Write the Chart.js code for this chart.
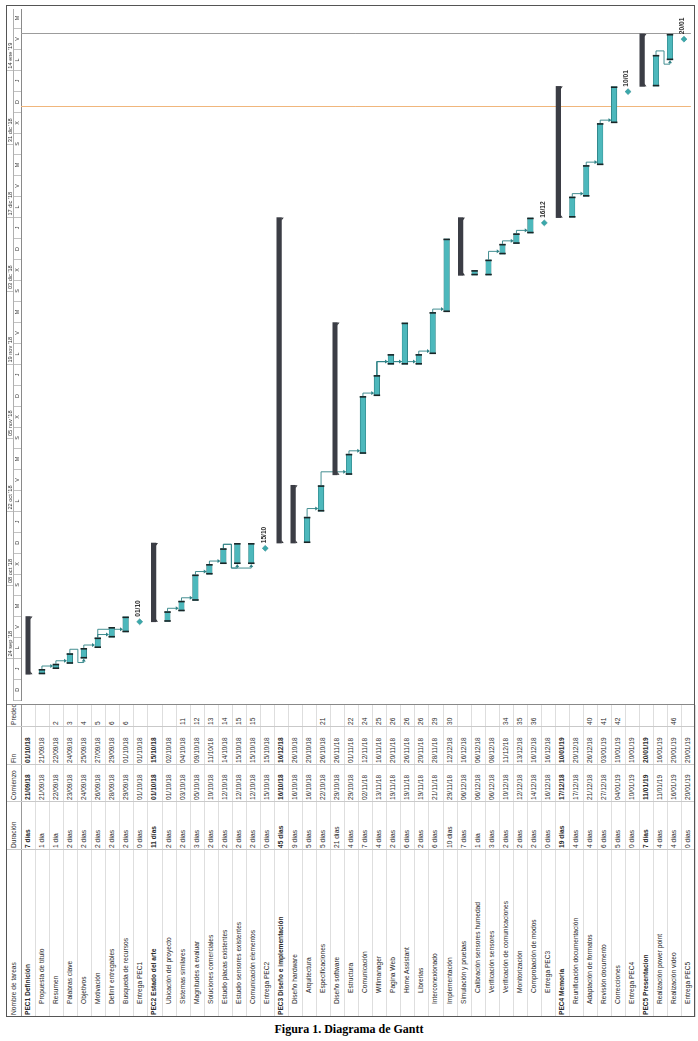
<!DOCTYPE html>
<html lang="es">
<head>
<meta charset="utf-8">
<title>Diagrama de Gantt</title>
<script src="https://cdn.jsdelivr.net/npm/chart.js@4.4.1/dist/chart.umd.min.js"></script>
<style>
  html, body { margin: 0; padding: 0; background: #fff; }
  body { width: 698px; height: 1041px; position: relative; overflow: hidden; font-family: "Liberation Sans", Arial, sans-serif; }
  /* the whole gantt is laid out normally and then turned a quarter to the left */
  #frame { position: absolute; left: 6px; top: 1017px; width: 1012px; height: 689.4px; transform-origin: 0 0; transform: rotate(-90deg); }
  #table { position: absolute; left: 0; top: 0; width: 312px; height: 100%; font-size: 6.6px; color: #2a2a2a; }
  .cell { position: absolute; white-space: nowrap; overflow: hidden; box-sizing: border-box; padding-left: 2px; }
  .rowline { position: absolute; left: 0; width: 312px; height: 0; border-top: 1px solid #dedede; }
  .colline { position: absolute; top: 0; width: 0; height: 100%; border-left: 1px solid #c9c9c9; }
  #chartBox { position: absolute; left: 312px; top: 0; width: 700px; height: 100%; }
  #border { position: absolute; left: 0; top: 0; right: 0; bottom: 0; border: 1px solid #555; pointer-events: none; }
  #caption { position: absolute; left: 0; width: 698px; top: 1022px; text-align: center; font: bold 12px "Liberation Serif", "Times New Roman", serif; color: #000; }
</style>
</head>
<body>
<div id="frame">
  <div id="table"></div>
  <div id="chartBox"><canvas id="gantt"></canvas></div>
  <div id="border"></div>
</div>
<div id="caption">Figura 1. Diagrama de Gantt</div>

<script>
const taskNames = [
  "PEC1 Definición", "Propuesta de título", "Resumen", "Palabras clave", "Objetivos", "Motivación",
  "Definir entregables", "Busqueda de recursos", "Entrega PEC1",
  "PEC2 Estado del arte", "Ubicación del proyecto", "Sistemas similares", "Magnitudes a evaluar",
  "Soluciones comerciales", "Estudio placas existentes", "Estudio sensores existentes",
  "Comunicación elementos", "Entrega PEC2",
  "PEC3 Diseño e implementación", "Diseño hardware", "Arquitectura", "Especificaciones",
  "Diseño software", "Estructura", "Comunicación", "Wifimanager", "Pagina Web", "Home Assistant",
  "Librerias", "Interconexionado", "Implementación", "Simulación y pruebas",
  "Calibración sensores humedad", "Verificación sensores", "Verificación de comunicaciones",
  "Monitorización", "Comprobación de modos", "Entrega PEC3",
  "PEC4 Memoria", "Reunificación documentación", "Adaptación de formatos", "Revisión documento",
  "Correcciones", "Entrega PEC4",
  "PEC5 Presentacion", "Realización power point", "Realización video", "Entrega PEC5"
];
const taskLevels = [
  1, 2, 2, 2, 2, 2, 2, 2, 2,
  1, 2, 2, 2, 2, 2, 2, 2, 2,
  1, 2, 3, 3, 2, 3, 3, 3, 3, 3, 3, 2, 2, 2, 3, 3, 3, 3, 3, 3,
  1, 2, 2, 2, 2, 2,
  1, 2, 2, 2
];
const durations = [
  "7 días", "1 día", "1 día", "2 días", "2 días", "2 días", "2 días", "2 días", "0 días",
  "11 días", "2 días", "2 días", "3 días", "2 días", "2 días", "2 días", "2 días", "0 días",
  "45 días", "9 días", "5 días", "5 días", "21 días", "4 días", "7 días", "4 días", "2 días",
  "6 días", "2 días", "6 días", "10 días", "7 días", "1 día", "3 días", "2 días", "2 días",
  "2 días", "0 días",
  "19 días", "4 días", "4 días", "6 días", "5 días", "0 días",
  "7 días", "4 días", "4 días", "0 días"
];
const startDates = [
  "21/09/18", "21/09/18", "22/09/18", "23/09/18", "24/09/18", "26/09/18", "28/09/18", "29/09/18", "01/10/18",
  "01/10/18", "01/10/18", "03/10/18", "05/10/18", "10/10/18", "12/10/18", "12/10/18", "12/10/18", "15/10/18",
  "16/10/18", "16/10/18", "16/10/18", "22/10/18", "29/10/18", "29/10/18", "02/11/18", "13/11/18", "19/11/18",
  "19/11/18", "19/11/18", "21/11/18", "29/11/18", "06/12/18", "06/12/18", "06/12/18", "10/12/18", "12/12/18",
  "14/12/18", "16/12/18",
  "17/12/18", "17/12/18", "21/12/18", "27/12/18", "04/01/19", "10/01/19",
  "11/01/19", "11/01/19", "16/01/19", "20/01/19"
];
const finishDates = [
  "01/10/18", "21/09/18", "22/09/18", "24/09/18", "25/09/18", "27/09/18", "29/09/18", "01/10/18", "01/10/18",
  "15/10/18", "02/10/18", "04/10/18", "09/10/18", "11/10/18", "14/10/18", "15/10/18", "15/10/18", "15/10/18",
  "16/12/18", "26/10/18", "20/10/18", "26/10/18", "26/11/18", "01/11/18", "12/11/18", "16/11/18", "20/11/18",
  "26/11/18", "20/11/18", "28/11/18", "12/12/18", "16/12/18", "06/12/18", "08/12/18", "11/12/18", "13/12/18",
  "16/12/18", "16/12/18",
  "10/01/19", "20/12/18", "26/12/18", "03/01/19", "10/01/19", "10/01/19",
  "20/01/19", "16/01/19", "20/01/19", "20/01/19"
];
const predecessors = [
  "", "", "2", "3", "4", "5", "6", "6", "",
  "", "", "11", "12", "13", "14", "15", "15", "",
  "", "", "", "21", "", "22", "24", "25", "26", "26", "26", "29", "30", "", "", "", "34", "35", "36", "",
  "", "", "40", "41", "42", "",
  "", "", "46", ""
];
const columnTitles = ["Nombre de tareas", "Duración", "Comienzo", "Fin", "Predecesoras"];

// timescale
const timelineStart = "16/09/18";
const timelineDays = 131.65;
const weekStarts = ["24/09/18", "08/10/18", "22/10/18", "05/11/18", "19/11/18", "03/12/18", "17/12/18", "31/12/18", "14/01/19"];
const weekLabels = ["24 sep '18", "08 oct '18", "22 oct '18", "05 nov '18", "19 nov '18", "03 dic '18", "17 dic '18", "31 dic '18", "14 ene '19"];
const dayInitials = ["D", "L", "M", "X", "J", "V", "S"];
const statusDate = "07/01/19";
const finishLineDate = "21/01/19";

// layout
const colWidths = [167, 48, 37, 38, 22];
const HEADER_H = 15;
const ROW_H = 674.4 / taskNames.length;
const CHART_W = 700;
const FONT = "'Liberation Sans', Arial, sans-serif";
const TEAL = "#4db8bc";
const LINK = "#2f8286";

const BASE = (() => { const [d, m, y] = timelineStart.split("/").map(Number); return Date.UTC(2000 + y, m - 1, d); })();
function dayOf(s) {
  const [d, m, y] = s.split("/").map(Number);
  return (Date.UTC(2000 + y, m - 1, d) - BASE) / 864e5;
}

const isSummary = taskLevels.map((lv, i) => i + 1 < taskLevels.length && taskLevels[i + 1] > lv);
const isMilestone = durations.map(d => d.startsWith("0 "));
const taskBars = taskNames.map((_, i) => (!isSummary[i] && !isMilestone[i]) ? [dayOf(startDates[i]), dayOf(finishDates[i]) + 1] : null);
const summaryBars = taskNames.map((_, i) => isSummary[i] ? [dayOf(startDates[i]), dayOf(finishDates[i]) + 1] : null);
const milestonePoints = [];
taskNames.forEach((n, i) => { if (isMilestone[i]) milestonePoints.push({ x: dayOf(startDates[i]), y: n, label: startDates[i].slice(0, 5) }); });

// ---- table ----
const table = document.getElementById("table");
function addCell(text, left, top, width, height, extra) {
  const c = document.createElement("div");
  c.className = "cell";
  c.textContent = text;
  c.style.left = left + "px";
  c.style.top = top + "px";
  c.style.width = width + "px";
  c.style.height = height + "px";
  c.style.lineHeight = height + "px";
  Object.assign(c.style, extra || {});
  table.appendChild(c);
}
let colLeft = [];
colWidths.reduce((acc, w) => { colLeft.push(acc); return acc + w; }, 0);
columnTitles.forEach((t, k) => addCell(t, colLeft[k], 0, colWidths[k], HEADER_H, { color: "#333" }));
taskNames.forEach((name, i) => {
  const top = HEADER_H + i * ROW_H;
  const bold = taskLevels[i] === 1 ? { fontWeight: "bold" } : {};
  addCell(name, 0, top, colWidths[0], ROW_H, Object.assign({ paddingLeft: (2 + (taskLevels[i] - 1) * 11) + "px" }, bold));
  addCell(durations[i], colLeft[1], top, colWidths[1], ROW_H, bold);
  addCell(startDates[i], colLeft[2], top, colWidths[2], ROW_H, bold);
  addCell(finishDates[i], colLeft[3], top, colWidths[3], ROW_H, bold);
  addCell(predecessors[i], colLeft[4], top, colWidths[4], ROW_H);
  const l = document.createElement("div");
  l.className = "rowline";
  l.style.top = (top + ROW_H) + "px";
  table.appendChild(l);
});
const hl = document.createElement("div");
hl.className = "rowline";
hl.style.top = HEADER_H + "px";
hl.style.borderTop = "1px solid #999";
table.appendChild(hl);
colLeft.slice(1).concat([312]).forEach(x => {
  const l = document.createElement("div");
  l.className = "colline";
  l.style.left = x + "px";
  if (x === 312) l.style.borderLeft = "1px solid #888";
  table.appendChild(l);
});

// ---- gantt ----
const pxPerDay = CHART_W / timelineDays;
const dayTicks = [];
for (let v = 0; v <= timelineDays; v += 4) dayTicks.push(v);
const weekTicks = weekStarts.map(dayOf);

const tierFit = h => scale => { scale.height = h; scale.paddingLeft = 0; scale.paddingRight = 0; };

const extrasPlugin = {
  id: "ganttExtras",
  beforeDatasetsDraw(chart) {
    const { ctx, chartArea, scales } = chart;
    ctx.save();
    // status date and finish lines
    [[statusDate, "#f0b67c"], [finishLineDate, "#9c9c9c"]].forEach(([d, col]) => {
      const x = Math.round(scales.x.getPixelForValue(dayOf(d))) + 0.5;
      ctx.strokeStyle = col;
      ctx.lineWidth = 1;
      ctx.beginPath();
      ctx.moveTo(x, chartArea.top);
      ctx.lineTo(x, chartArea.bottom);
      ctx.stroke();
    });
    // dependency links
    const meta = chart.getDatasetMeta(0);
    ctx.strokeStyle = LINK;
    ctx.fillStyle = LINK;
    ctx.lineWidth = 0.9;
    predecessors.forEach((p, i) => {
      if (!p || !taskBars[i]) return;
      p.split(";").forEach(id => {
        const j = Number(id) - 1;
        if (!taskBars[j]) return;
        const a = meta.data[j].getProps(["x", "y", "height"], true);
        const b = meta.data[i].getProps(["base", "y", "height"], true);
        ctx.beginPath();
        if (b.base >= a.x - 1) {
          const xt = b.base + 3;
          const top = b.y - b.height / 2;
          ctx.moveTo(a.x, a.y);
          ctx.lineTo(xt, a.y);
          ctx.lineTo(xt, top - 2);
          ctx.stroke();
          ctx.beginPath();
          ctx.moveTo(xt - 2, top - 3);
          ctx.lineTo(xt + 2, top - 3);
          ctx.lineTo(xt, top);
          ctx.closePath();
          ctx.fill();
        } else {
          const yMid = a.y + ROW_H / 2 + 1;
          const xl = b.base - 4;
          ctx.moveTo(a.x, a.y);
          ctx.lineTo(a.x + 4, a.y);
          ctx.lineTo(a.x + 4, yMid);
          ctx.lineTo(xl, yMid);
          ctx.lineTo(xl, b.y);
          ctx.lineTo(b.base - 2, b.y);
          ctx.stroke();
          ctx.beginPath();
          ctx.moveTo(b.base - 3, b.y - 2);
          ctx.lineTo(b.base - 3, b.y + 2);
          ctx.lineTo(b.base, b.y);
          ctx.closePath();
          ctx.fill();
        }
      });
    });
    ctx.restore();
  },
  afterDatasetsDraw(chart) {
    const ctx = chart.ctx;
    ctx.save();
    // end caps of task bars
    ctx.fillStyle = "#1b2526";
    chart.getDatasetMeta(0).data.forEach((el, i) => {
      if (!taskBars[i]) return;
      const { x, base, y, height } = el.getProps(["x", "base", "y", "height"], true);
      ctx.fillRect(base, y - height / 2 - 0.5, 1.6, height + 1);
      ctx.fillRect(x - 1.6, y - height / 2 - 0.5, 1.6, height + 1);
    });
    // pointed ends of summary bars
    ctx.fillStyle = "#33353b";
    chart.getDatasetMeta(1).data.forEach((el, i) => {
      if (!summaryBars[i]) return;
      const { x, base, y, height } = el.getProps(["x", "base", "y", "height"], true);
      const yb = y + height / 2;
      [[base, 1], [x, -1]].forEach(([px, dir]) => {
        ctx.beginPath();
        ctx.moveTo(px, yb);
        ctx.lineTo(px + 3 * dir, yb);
        ctx.lineTo(px, yb + 2.2);
        ctx.closePath();
        ctx.fill();
      });
    });
    // milestone date labels
    ctx.fillStyle = "#2b2b2b";
    ctx.font = "bold 6.6px " + FONT;
    ctx.textAlign = "left";
    ctx.textBaseline = "middle";
    chart.getDatasetMeta(2).data.forEach((pt, k) => {
      ctx.fillText(milestonePoints[k].label, pt.x + 5, pt.y - 1.5);
    });
    ctx.restore();
  }
};

new Chart(document.getElementById("gantt"), {
  type: "bar",
  data: {
    labels: taskNames,
    datasets: [
      {
        label: "Tareas",
        data: taskBars,
        backgroundColor: TEAL,
        borderColor: "#2a7a7e",
        borderWidth: { top: 0.6, bottom: 0.6, left: 0, right: 0 },
        borderSkipped: false,
        barThickness: 5.5,
        grouped: false
      },
      {
        label: "Resumen",
        data: summaryBars,
        backgroundColor: "#3b3d45",
        barThickness: 4.5,
        grouped: false
      },
      {
        type: "scatter",
        label: "Hitos",
        data: milestonePoints,
        pointStyle: "rectRot",
        pointRadius: 3,
        backgroundColor: "#3aa8ab",
        borderColor: "#2c8b8e",
        borderWidth: 0.5
      }
    ]
  },
  options: {
    indexAxis: "y",
    responsive: true,
    maintainAspectRatio: false,
    animation: false,
    layout: { padding: 0 },
    plugins: { legend: { display: false }, tooltip: { enabled: false } },
    scales: {
      x: {
        type: "linear",
        position: "top",
        weight: 0,
        min: 0,
        max: timelineDays,
        afterBuildTicks: s => { s.ticks = dayTicks.map(v => ({ value: v })); },
        afterFit: tierFit(HEADER_H / 2),
        ticks: {
          autoSkip: false, maxRotation: 0, minRotation: 0,
          padding: -HEADER_H / 2,
          labelOffset: 2 * pxPerDay,
          color: "#3a3a3a",
          font: { family: FONT, size: 5.4 },
          callback: v => dayInitials[new Date(BASE + v * 864e5).getUTCDay()]
        },
        grid: { drawOnChartArea: false, tickLength: HEADER_H / 2, color: "#c2c2c2" },
        border: { display: true, color: "#8a8a8a" }
      },
      xw: {
        type: "linear",
        position: "top",
        weight: 1,
        min: 0,
        max: timelineDays,
        afterBuildTicks: s => { s.ticks = weekTicks.map(v => ({ value: v })); },
        afterFit: tierFit(HEADER_H / 2),
        ticks: {
          autoSkip: false, maxRotation: 0, minRotation: 0,
          padding: -HEADER_H / 2,
          align: "start",
          labelOffset: 2,
          color: "#3a3a3a",
          font: { family: FONT, size: 5.6 },
          callback: (v, i) => weekLabels[i]
        },
        grid: { drawOnChartArea: false, tickLength: HEADER_H / 2, color: "#c2c2c2" },
        border: { display: true, color: "#b0b0b0" }
      },
      y: {
        type: "category",
        display: false,
        offset: true,
        grid: { display: false }
      }
    }
  },
  plugins: [extrasPlugin]
});
</script>
</body>
</html>
